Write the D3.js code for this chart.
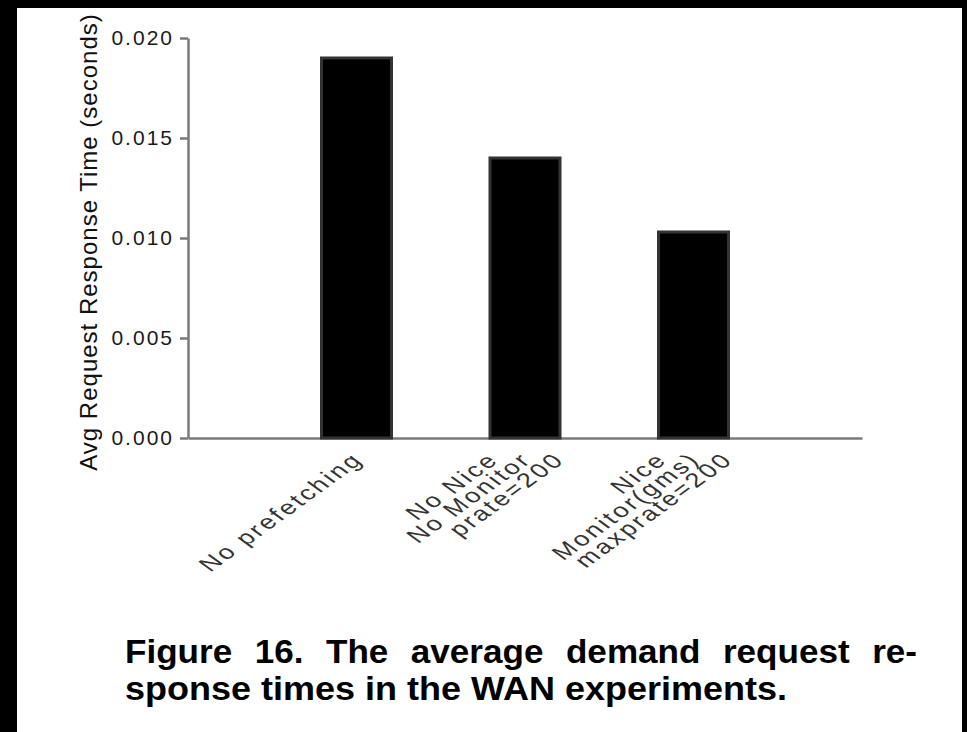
<!DOCTYPE html>
<html>
<head>
<meta charset="utf-8">
<script src="https://cdn.jsdelivr.net/npm/d3@7"></script>
<style>
  html, body { margin: 0; padding: 0; background: #000; }
  svg { display: block; }
</style>
</head>
<body>
<svg id="chart"></svg>
<script>
// Chart data
const categories = ['No prefetching', 'No Nice|No Monitor|prate=200', 'Nice|Monitor(gms)|maxprate=200'];
const responseTimes = [0.0190, 0.0140, 0.0103];
const yTicks = [0.000, 0.005, 0.010, 0.015, 0.020];
const yLabel = 'Avg Request Response Time (seconds)';
const captionLines = ['Figure 16. The average demand request re-', 'sponse times in the WAN experiments.'];

const width = 967, height = 732;
const svg = d3.select('#chart').attr('width', width).attr('height', height);

// white paper area
svg.append('rect')
    .attr('x', 17).attr('y', 8)
    .attr('width', 945).attr('height', 724)
    .attr('fill', '#fff');

const x = d3.scalePoint()
    .domain(categories)
    .range([188, 862])
    .padding(1);

const y = d3.scaleLinear()
    .domain([0, 0.020])
    .range([438, 38]);

const barWidth = 70;

// y axis
const yAxis = svg.append('g')
    .attr('transform', 'translate(188,0)')
    .call(d3.axisLeft(y)
        .tickValues(yTicks)
        .tickFormat(d3.format('.3f'))
        .tickSize(8)
        .tickSizeOuter(0)
        .tickPadding(6));
yAxis.select('.domain').attr('stroke', '#7a7a7a').attr('stroke-width', 2.5);
yAxis.selectAll('.tick line').attr('stroke', '#7a7a7a').attr('stroke-width', 2.5);
yAxis.selectAll('.tick text')
    .attr('fill', '#1a1a1a')
    .style('font-family', 'Arial, "Liberation Sans", sans-serif')
    .style('font-size', '21px')
    .style('letter-spacing', '2px');

// x axis (baseline only)
const xAxis = svg.append('g')
    .attr('transform', 'translate(0,438)')
    .call(d3.axisBottom(x).tickSize(0).tickSizeOuter(0).tickFormat(''));
xAxis.select('.domain').attr('stroke', '#7a7a7a').attr('stroke-width', 2.5);

// bars
svg.append('g')
    .selectAll('rect')
    .data(responseTimes)
    .enter().append('rect')
    .attr('x', (d, i) => x(categories[i]) - barWidth / 2)
    .attr('y', d => y(d))
    .attr('width', barWidth)
    .attr('height', d => y(0) - y(d))
    .attr('fill', '#000')
    .attr('stroke', '#333')
    .attr('stroke-width', 3);

// rotated category labels, one text per line
const labelGroup = svg.append('g')
    .style('font-family', 'Arial, "Liberation Sans", sans-serif')
    .style('font-size', '20px')
    .style('letter-spacing', '2px')
    .attr('fill', '#333');

categories.forEach(cat => {
    const lines = cat.split('|');
    const mid = (lines.length - 1) / 2;
    lines.forEach((line, k) => {
        const ax = x(cat) + 8 + (k - mid) * 33;
        labelGroup.append('text')
            .attr('transform', `translate(${ax},461) scale(1.38,1) rotate(-45)`)
            .attr('text-anchor', 'end')
            .text(line);
    });
});

// y axis title
svg.append('text')
    .attr('transform', 'translate(97,242) rotate(-90)')
    .attr('text-anchor', 'middle')
    .attr('fill', '#111')
    .style('font-family', 'Arial, "Liberation Sans", sans-serif')
    .style('font-size', '24px')
    .style('letter-spacing', '1px')
    .text(yLabel);

// caption
const caption = svg.append('g')
    .attr('fill', '#000')
    .style('font-family', 'Arial, "Liberation Sans", sans-serif')
    .style('font-size', '33px')
    .style('font-weight', 'bold');

// first line is justified: wider word gaps, glyphs stretched a little to the margin
caption.append('text')
    .attr('x', 125).attr('y', 663)
    .style('word-spacing', '12px')
    .attr('textLength', 792)
    .attr('lengthAdjust', 'spacingAndGlyphs')
    .text(captionLines[0]);

caption.append('text')
    .attr('x', 125).attr('y', 700)
    .attr('textLength', 662)
    .attr('lengthAdjust', 'spacingAndGlyphs')
    .text(captionLines[1]);
</script>
</body>
</html>
